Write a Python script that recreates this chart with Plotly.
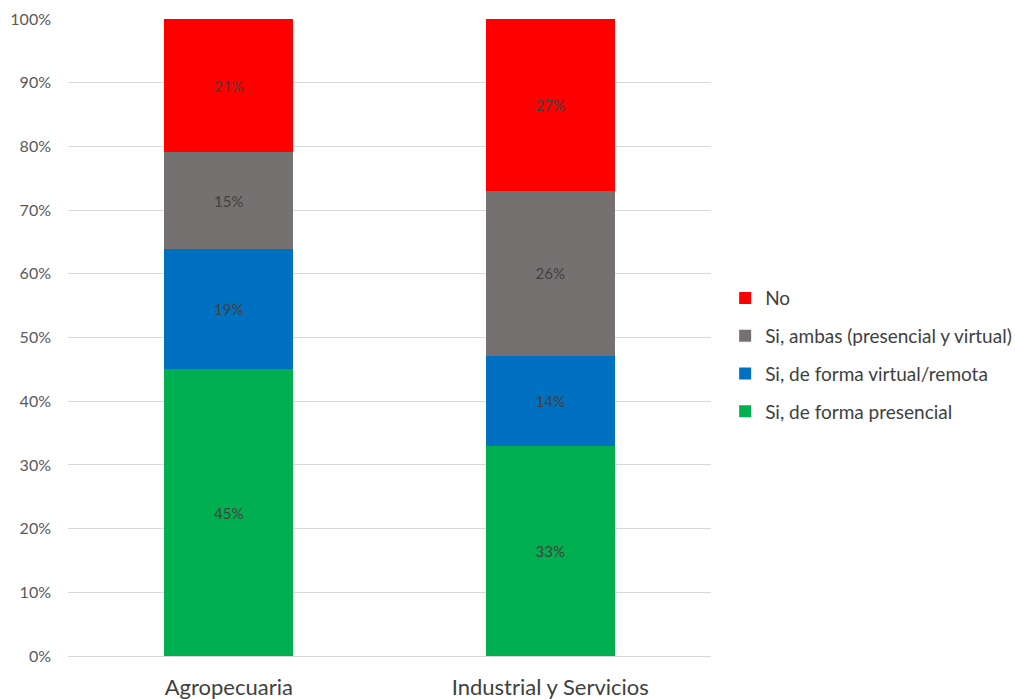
import plotly.graph_objects as go

categories = ["Agropecuaria", "Industrial y Servicios"]
series_names = ["Si, de forma presencial", "Si, de forma virtual/remota",
                "Si, ambas (presencial y virtual)", "No"]
presencial = [0.450, 0.330]
virtual = [0.189, 0.141]
ambas = [0.152, 0.259]
no = [0.209, 0.270]
colors = ["#00B050", "#0070C0", "#767171", "#FF0000"]

FONT = "Lato"
fig = go.Figure()
for i, (name, vals) in enumerate(zip(series_names, [presencial, virtual, ambas, no])):
    fig.add_trace(go.Bar(
        x=categories, y=vals, name=name,
        marker=dict(color=colors[i], line=dict(width=0)),
        texttemplate="%{y:.0%}", textposition="inside", insidetextanchor="middle",
        textfont=dict(family=FONT, size=15, color="#404040"),
        legendgroup=str(i), legendrank=10 - i,
        hoverinfo="skip",
    ))

fig.update_layout(
    barmode="stack",
    bargap=0.6,
    width=1015, height=699,
    margin=dict(l=68, r=304, t=19, b=43, autoexpand=False),
    plot_bgcolor="white", paper_bgcolor="white",
    font=dict(family=FONT),
    legend=dict(
        traceorder="grouped", tracegroupgap=10,
        x=1.022, xanchor="left", y=0.473, yanchor="middle",
        font=dict(family=FONT, size=19, color="#404040"),
        itemwidth=30,
    ),
    xaxis=dict(
        tickfont=dict(family=FONT, size=22, color="#404040"),
        showline=True, linecolor="#D9D9D9", linewidth=1,
        ticks="", showgrid=False, ticklabelstandoff=12, automargin=False,
    ),
    yaxis=dict(
        range=[0, 1], tickformat=".0%", dtick=0.1,
        tickfont=dict(family=FONT, size=16, color="#595959"),
        gridcolor="#D9D9D9", gridwidth=1, zeroline=False,
        ticks="", ticklabelstandoff=16, automargin=False,
    ),
)

fig.write_html("out.html")
